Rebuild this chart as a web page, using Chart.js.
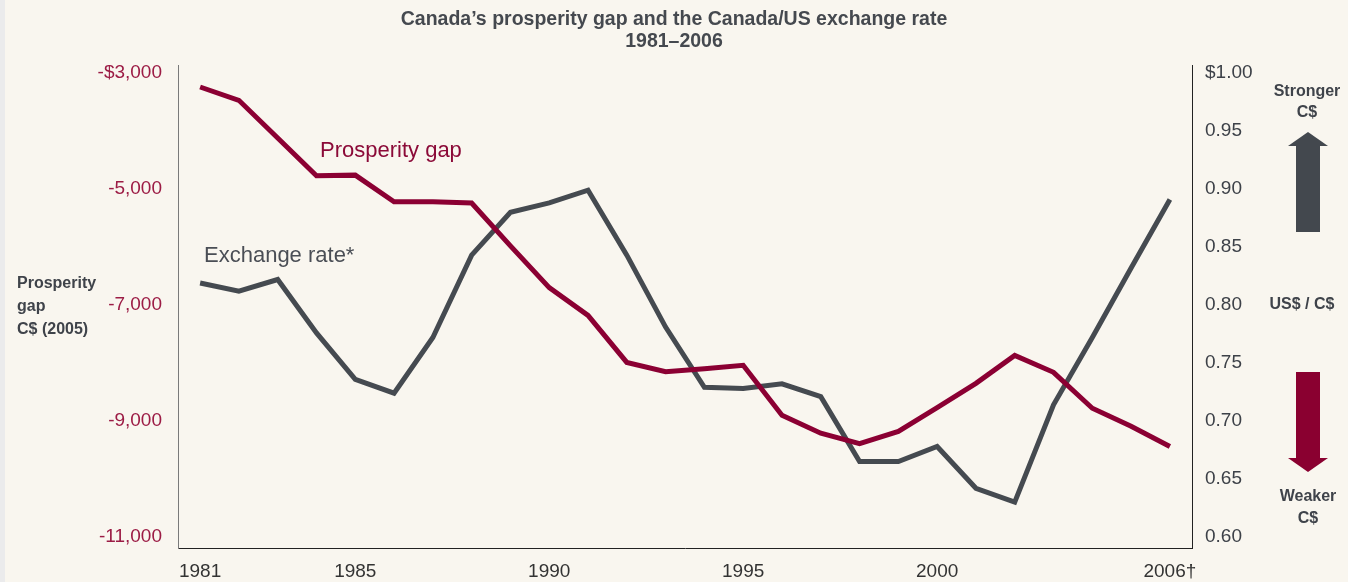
<!DOCTYPE html>
<html>
<head>
<meta charset="utf-8">
<script src="https://cdn.jsdelivr.net/npm/chart.js@4"></script>
<style>
  html, body { margin: 0; padding: 0; background: #f9f6ef; }
  #wrap { position: relative; width: 1348px; height: 582px; }
  #strip { position: absolute; left: 0; top: 0; width: 5px; height: 582px; background: #ebebec; }
</style>
</head>
<body>
<div id="wrap">
  <canvas id="myChart" width="1348" height="582"></canvas>
  <div id="strip"></div>
</div>
<script>
"use strict";

const years = [1981, 1982, 1983, 1984, 1985, 1986, 1987, 1988, 1989, 1990, 1991, 1992, 1993,
  1994, 1995, 1996, 1997, 1998, 1999, 2000, 2001, 2002, 2003, 2004, 2005, 2006];

// prosperity gap, C$ (2005)
const gapValues = [-3240, -3470, -4120, -4770, -4760, -5220, -5220, -5240, -5980, -6700, -7180,
  -7990, -8150, -8100, -8040, -8900, -9210, -9390, -9180, -8770, -8350, -7870, -8160, -8780,
  -9090, -9440];

// US$ per C$
const rateValues = [0.819, 0.812, 0.822, 0.776, 0.736, 0.724, 0.772, 0.843, 0.880, 0.888, 0.899,
  0.843, 0.781, 0.729, 0.728, 0.732, 0.721, 0.665, 0.665, 0.678, 0.642, 0.630, 0.714, 0.772,
  0.832, 0.891];

const yearTicks = [1981, 1985, 1990, 1995, 2000, 2006];
const yearTickLabels = ["1981", "1985", "1990", "1995", "2000", "2006\u2020"];
const gapTicks = [-11000, -9000, -7000, -5000, -3000];
const gapTickLabels = ["-11,000", "-9,000", "-7,000", "-5,000", "-$3,000"];
const rateTicks = [0.6, 0.65, 0.7, 0.75, 0.8, 0.85, 0.9, 0.95, 1.0];
const rateTickLabels = ["0.60", "0.65", "0.70", "0.75", "0.80", "0.85", "0.90", "0.95", "$1.00"];

const RED = "#8b0033";
const GREY = "#454a50";
const FONT = "'Liberation Sans', Arial, Helvetica, sans-serif";

function toPoints(values) {
  let pts = [];
  for (let i = 0; i < years.length; i++) {
    pts.push({ x: years[i], y: values[i] });
  }
  return pts;
}

function drawArrow(ctx, cx, shaftTop, shaftBottom, tipY, up, color) {
  ctx.fillStyle = color;
  ctx.fillRect(cx - 12, shaftTop, 24, shaftBottom - shaftTop);
  ctx.beginPath();
  if (up) {
    ctx.moveTo(cx - 20, shaftTop);
    ctx.lineTo(cx + 20, shaftTop);
    ctx.lineTo(cx, tipY);
  } else {
    ctx.moveTo(cx - 20, shaftBottom);
    ctx.lineTo(cx + 20, shaftBottom);
    ctx.lineTo(cx, tipY);
  }
  ctx.closePath();
  ctx.fill();
}

const notesPlugin = {
  id: "notes",
  afterDraw(chart) {
    const ctx = chart.ctx;
    ctx.save();

    // line labels
    ctx.textBaseline = "middle";
    ctx.textAlign = "left";
    ctx.font = "22px " + FONT;
    ctx.fillStyle = "#8b0a38";
    ctx.fillText("Prosperity gap", 320, 151);
    ctx.fillStyle = "#4a4e55";
    ctx.fillText("Exchange rate*", 204, 256);

    // left axis title
    ctx.textBaseline = "alphabetic";
    ctx.font = "bold 16px " + FONT;
    ctx.fillStyle = "#3f434a";
    ctx.fillText("Prosperity", 17, 288);
    ctx.fillText("gap", 17, 311);
    ctx.fillText("C$ (2005)", 17, 334);

    // right side notes
    ctx.textAlign = "center";
    ctx.textBaseline = "middle";
    ctx.font = "bold 16px " + FONT;
    ctx.fillText("Stronger", 1307, 92);
    ctx.fillText("C$", 1307, 113);
    ctx.fillText("US$ / C$", 1302, 305);
    ctx.fillText("Weaker", 1308, 497);
    ctx.fillText("C$", 1308, 519);

    drawArrow(ctx, 1308, 146, 232, 132, true, "#43484e");
    drawArrow(ctx, 1308, 372, 458, 472, false, "#8a0030");

    ctx.restore();
  },
};

const data = {
  datasets: [
    {
      label: "Prosperity gap",
      data: toPoints(gapValues),
      borderColor: RED,
      borderWidth: 5,
      pointRadius: 0,
      tension: 0,
      yAxisID: "yGap",
    },
    {
      label: "Exchange rate*",
      data: toPoints(rateValues),
      borderColor: GREY,
      borderWidth: 5,
      pointRadius: 0,
      tension: 0,
      yAxisID: "yRate",
    },
  ],
};

const config = {
  type: "line",
  data: data,
  options: {
    responsive: false,
    animation: false,
    layout: { padding: 0 },
    plugins: {
      legend: { display: false },
      tooltip: { enabled: false },
      title: {
        display: true,
        text: ["Canada\u2019s prosperity gap and the Canada/US exchange rate", "1981\u20132006"],
        color: "#45494f",
        font: { family: FONT, size: 19.5, weight: "bold", lineHeight: 1.13 },
        padding: { top: 9, bottom: 12 },
      },
    },
    scales: {
      x: {
        type: "linear",
        min: 1980.43,
        max: 2006.57,
        grid: { display: false },
        border: { display: true, color: "#222", width: 1 },
        afterBuildTicks: (scale) => {
          scale.ticks = yearTicks.map((v) => ({ value: v }));
        },
        afterFit: (scale) => {
          scale.height = 34;
        },
        ticks: {
          autoSkip: false,
          maxRotation: 0,
          padding: 4,
          color: "#333",
          font: { family: FONT, size: 19 },
          callback: (v, i) => yearTickLabels[i],
        },
      },
      yGap: {
        type: "linear",
        position: "left",
        min: -11190,
        max: -2862,
        grid: { display: false },
        border: { display: true, color: "#7a7a7a", width: 1 },
        afterBuildTicks: (scale) => {
          scale.ticks = gapTicks.map((v) => ({ value: v }));
        },
        afterFit: (scale) => {
          scale.width = 178;
        },
        ticks: {
          padding: 8,
          color: "#9c1c45",
          font: { family: FONT, size: 19 },
          callback: (v, i) => gapTickLabels[i],
        },
      },
      yRate: {
        type: "linear",
        position: "right",
        min: 0.5905,
        max: 1.0069,
        grid: { display: false },
        border: { display: true, color: "#222", width: 1 },
        afterBuildTicks: (scale) => {
          scale.ticks = rateTicks.map((v) => ({ value: v }));
        },
        afterFit: (scale) => {
          scale.width = 156;
        },
        ticks: {
          padding: 5,
          color: "#3d4148",
          font: { family: FONT, size: 19 },
          callback: (v, i) => rateTickLabels[i],
        },
      },
    },
  },
  plugins: [notesPlugin],
};

const canvasChart = document.getElementById("myChart");
new Chart(canvasChart, config);
</script>
</body>
</html>
